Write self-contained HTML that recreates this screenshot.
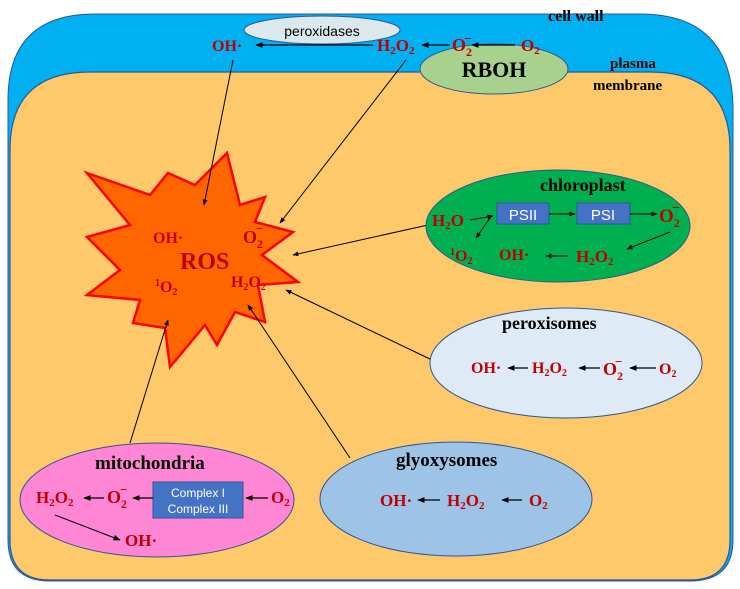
<!DOCTYPE html>
<html><head><meta charset="utf-8"><style>
html,body{margin:0;padding:0;background:#fff;}
svg{display:block;}
.r{fill:#c00000;font-family:"Liberation Serif",serif;font-weight:bold;}
.b{fill:#000;font-family:"Liberation Serif",serif;font-weight:bold;}
.s{font-family:"Liberation Sans",sans-serif;}
</style></head><body>
<svg width="740" height="589" viewBox="0 0 740 589" xmlns="http://www.w3.org/2000/svg">
<defs>
<marker id="a" viewBox="0 0 10 10" refX="9" refY="5" markerWidth="6" markerHeight="6" orient="auto-start-reverse"><path d="M0,1 L10,5 L0,9 z" fill="#000"/></marker>
</defs>
<path d="M8,540 L8,100 Q8,14 95,14 L640,14 Q733,14 733,110 L733,540 Q733,581 690,581 L50,581 Q8,581 8,540 Z" fill="#00b0f0" stroke="#2f5597" stroke-width="1"/>
<path d="M10,540 L10,150 Q10,72 90,72 L650,72 Q730,72 730,150 L730,540 Q730,580 690,580 L50,580 Q10,580 10,540 Z" fill="#fec96a" stroke="#2f5597" stroke-width="1.2"/>
<text x="548" y="21" class="b" font-size="16">cell wall</text>
<text x="610" y="68" class="b" font-size="15">plasma</text>
<text x="593" y="90" class="b" font-size="15">membrane</text>
<ellipse cx="322" cy="30" rx="78" ry="14" fill="#dbe9ee" stroke="#2f5597"/>
<text x="322" y="36" text-anchor="middle" class="s" font-size="14">peroxidases</text>
<ellipse cx="494" cy="69" rx="74" ry="25" fill="#a9d18e" stroke="#2f5597"/>
<text x="494" y="77" text-anchor="middle" class="b" font-size="22">RBOH</text>
<text x="212" y="51" class="r" font-size="16">OH·</text>
<line x1="373" y1="45" x2="256" y2="45" stroke="#000" stroke-width="1.2" marker-end="url(#a)"/>
<text x="377" y="51" class="r" font-size="17">H<tspan font-size="11" dy="3">2</tspan><tspan dy="-3">O</tspan><tspan font-size="11" dy="3">2</tspan></text>
<line x1="450" y1="45" x2="422" y2="45" stroke="#000" stroke-width="1.2" marker-end="url(#a)"/>
<text x="452" y="51" class="r" font-size="18">O<tspan font-size="12" dy="5">2</tspan></text>
<text x="464" y="43" class="r" font-size="14">−</text>
<line x1="515" y1="45" x2="472" y2="45" stroke="#000" stroke-width="1.2" marker-end="url(#a)"/>
<text x="521" y="51" class="r" font-size="17">O<tspan font-size="11" dy="3">2</tspan></text>
<polygon points="87,173 150,195 168,173 195,185 227,153 240,205 265,197 255,222 293,232 262,255 298,282 258,285 265,322 235,312 217,345 205,325 170,367 165,328 133,323 140,300 87,295 120,270 87,237 130,225" fill="#ff6600" stroke="#ff0000" stroke-width="2.5" stroke-linejoin="miter"/>
<text x="153" y="243" class="r" font-size="16">OH·</text>
<text x="243" y="243" class="r" font-size="18">O<tspan font-size="12" dy="5">2</tspan></text>
<text x="256" y="233" class="r" font-size="13">−</text>
<text x="180" y="269" class="r" font-size="24">ROS</text>
<text x="155" y="292" class="r" font-size="16"><tspan font-size="10" dy="-6">1</tspan><tspan dy="6">O</tspan><tspan font-size="10" dy="3">2</tspan></text>
<text x="231" y="287" class="r" font-size="16">H<tspan font-size="10" dy="3">2</tspan><tspan dy="-3">O</tspan><tspan font-size="10" dy="3">2</tspan></text>
<line x1="233" y1="60" x2="204" y2="205" stroke="#000" stroke-width="1" marker-end="url(#a)"/>
<line x1="406" y1="60" x2="280" y2="223" stroke="#000" stroke-width="1" marker-end="url(#a)"/>
<line x1="428" y1="225" x2="293" y2="255" stroke="#000" stroke-width="1" marker-end="url(#a)"/>
<line x1="432" y1="360" x2="286" y2="290" stroke="#000" stroke-width="1" marker-end="url(#a)"/>
<line x1="130" y1="443" x2="168" y2="320" stroke="#000" stroke-width="1" marker-end="url(#a)"/>
<line x1="350" y1="458" x2="248" y2="305" stroke="#000" stroke-width="1" marker-end="url(#a)"/>
<ellipse cx="558" cy="226" rx="132" ry="56" fill="#00b050" stroke="#2f5597"/>
<text x="540" y="191" class="b" font-size="18">chloroplast</text>
<rect x="497" y="203" width="52" height="21" fill="#4472c4" stroke="#2f5597"/>
<text x="523" y="220" text-anchor="middle" class="s" font-size="15" fill="#fff">PSII</text>
<rect x="577" y="203" width="53" height="21" fill="#4472c4" stroke="#2f5597"/>
<text x="603" y="220" text-anchor="middle" class="s" font-size="15" fill="#fff">PSI</text>
<text x="432" y="226" class="r" font-size="17">H<tspan font-size="11" dy="3">2</tspan><tspan dy="-3">O</tspan></text>
<line x1="470" y1="220" x2="493" y2="216" stroke="#000" stroke-width="1" marker-end="url(#a)"/>
<line x1="490" y1="218" x2="476" y2="238" stroke="#000" stroke-width="1" marker-end="url(#a)"/>
<line x1="549" y1="214" x2="575" y2="214" stroke="#000" stroke-width="1" marker-end="url(#a)"/>
<line x1="630" y1="214" x2="657" y2="214" stroke="#000" stroke-width="1" marker-end="url(#a)"/>
<text x="659" y="222" class="r" font-size="19">O<tspan font-size="12" dy="5">2</tspan></text>
<text x="672" y="212" class="r" font-size="14">−</text>
<line x1="670" y1="232" x2="627" y2="249" stroke="#000" stroke-width="1" marker-end="url(#a)"/>
<text x="450" y="261" class="r" font-size="16"><tspan font-size="10" dy="-6">1</tspan><tspan dy="6">O</tspan><tspan font-size="10" dy="3">2</tspan></text>
<text x="499" y="260" class="r" font-size="16">OH·</text>
<line x1="568" y1="256" x2="546" y2="256" stroke="#000" stroke-width="1" marker-end="url(#a)"/>
<text x="576" y="262" class="r" font-size="17">H<tspan font-size="11" dy="3">2</tspan><tspan dy="-3">O</tspan><tspan font-size="11" dy="3">2</tspan></text>
<ellipse cx="566" cy="363" rx="136" ry="55" fill="#deebf7" stroke="#2f5597"/>
<text x="502" y="329" class="b" font-size="18">peroxisomes</text>
<text x="471" y="373" class="r" font-size="16">OH·</text>
<line x1="528" y1="368" x2="508" y2="368" stroke="#000" stroke-width="1.2" marker-end="url(#a)"/>
<text x="532" y="373" class="r" font-size="16">H<tspan font-size="10" dy="3">2</tspan><tspan dy="-3">O</tspan><tspan font-size="10" dy="3">2</tspan></text>
<line x1="600" y1="368" x2="579" y2="368" stroke="#000" stroke-width="1.2" marker-end="url(#a)"/>
<text x="603" y="375" class="r" font-size="18">O<tspan font-size="12" dy="5">2</tspan></text>
<text x="615" y="366" class="r" font-size="13">−</text>
<line x1="656" y1="368" x2="630" y2="368" stroke="#000" stroke-width="1.2" marker-end="url(#a)"/>
<text x="659" y="374" class="r" font-size="16">O<tspan font-size="10" dy="3">2</tspan></text>
<ellipse cx="157" cy="500" rx="137" ry="57" fill="#ff86d4" stroke="#2f5597"/>
<text x="95" y="469" class="b" font-size="19">mitochondria</text>
<rect x="153" y="482" width="90" height="36" fill="#4472c4" stroke="#2f5597"/>
<text x="198" y="497" text-anchor="middle" class="s" font-size="12" fill="#fff">Complex I</text>
<text x="198" y="513" text-anchor="middle" class="s" font-size="12" fill="#fff">Complex III</text>
<text x="36" y="503" class="r" font-size="17">H<tspan font-size="11" dy="3">2</tspan><tspan dy="-3">O</tspan><tspan font-size="11" dy="3">2</tspan></text>
<line x1="104" y1="498" x2="84" y2="498" stroke="#000" stroke-width="1.2" marker-end="url(#a)"/>
<text x="107" y="503" class="r" font-size="18">O<tspan font-size="12" dy="5">2</tspan></text>
<text x="120" y="494" class="r" font-size="13">−</text>
<line x1="153" y1="498" x2="133" y2="498" stroke="#000" stroke-width="1.2" marker-end="url(#a)"/>
<line x1="268" y1="498" x2="246" y2="498" stroke="#000" stroke-width="1.2" marker-end="url(#a)"/>
<text x="271" y="503" class="r" font-size="17">O<tspan font-size="11" dy="3">2</tspan></text>
<line x1="55" y1="515" x2="120" y2="540" stroke="#000" stroke-width="1.2" marker-end="url(#a)"/>
<text x="125" y="546" class="r" font-size="17">OH·</text>
<ellipse cx="456" cy="499" rx="136" ry="57" fill="#9dc3e6" stroke="#2f5597"/>
<text x="396" y="466" class="b" font-size="19">glyoxysomes</text>
<text x="380" y="506" class="r" font-size="17">OH·</text>
<line x1="440" y1="500" x2="418" y2="500" stroke="#000" stroke-width="1.2" marker-end="url(#a)"/>
<text x="447" y="506" class="r" font-size="17">H<tspan font-size="11" dy="3">2</tspan><tspan dy="-3">O</tspan><tspan font-size="11" dy="3">2</tspan></text>
<line x1="522" y1="500" x2="502" y2="500" stroke="#000" stroke-width="1.2" marker-end="url(#a)"/>
<text x="529" y="506" class="r" font-size="17">O<tspan font-size="11" dy="3">2</tspan></text>
</svg>
</body></html>
